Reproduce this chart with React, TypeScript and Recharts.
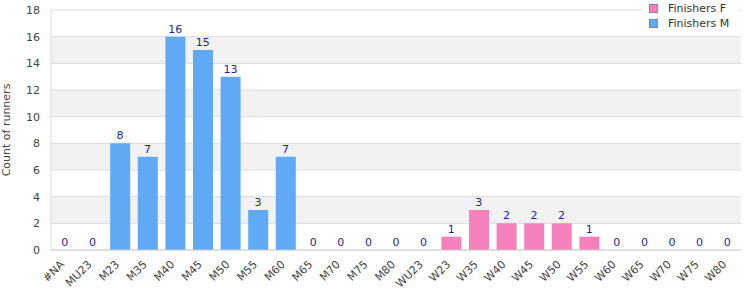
import React from 'react';
import { ComposedChart, Bar, Line, XAxis, YAxis, CartesianGrid, LabelList } from 'recharts';

const categories = ['#NA','MU23','M23','M35','M40','M45','M50','M55','M60','M65','M70','M75','M80','WU23','W23','W35','W40','W45','W50','W55','W60','W65','W70','W75','W80'];
const finishersM = [0,0,8,7,16,15,13,3,7,0,0,0,0,0,0,0,0,0,0,0,0,0,0,0,0];
const finishersF = [0,0,0,0,0,0,0,0,0,0,0,0,0,0,1,3,2,2,2,1,0,0,0,0,0];
const yTicks = [0,2,4,6,8,10,12,14,16,18];

const data = categories.map((c, i) => ({
  cat: c,
  m: finishersM[i],
  f: finishersF[i],
  total: finishersM[i] + finishersF[i],
}));

const FONT = '"DejaVu Sans", Verdana, sans-serif';
const BLUE = '#60a9f4';
const PINK = '#f481bb';

const XTick = (props: any) => {
  const { x, y, payload } = props;
  return (
    <text x={x} y={y + 7} transform={`rotate(-45 ${x} ${y + 7})`} textAnchor="end" fontSize={11} fill="#444" fontFamily={FONT}>
      {payload.value}
    </text>
  );
};

const YLabel = (props: any) => {
  const vb = props.viewBox || {};
  const cy = (vb.y ?? 10) + (vb.height ?? 240) / 2;
  return (
    <text x={6} y={cy} transform={`rotate(-90 6 ${cy})`} textAnchor="middle" dominantBaseline="central" fontSize={11} fill="#444" fontFamily={FONT}>
      Count of runners
    </text>
  );
};

export default function App() {
  return (
    <div style={{ position: 'absolute', left: 0, top: 0, width: 750, height: 300, background: '#fff', fontFamily: FONT }}>
      <ComposedChart width={750} height={300} data={data} margin={{ top: 10, right: 9, bottom: 0, left: 0 }}>
        <CartesianGrid vertical={false} stroke="#dcdcdc" horizontalFill={['#ffffff', '#f2f2f2']} fillOpacity={1} />
        <XAxis dataKey="cat" height={50} interval={0} tick={<XTick />} tickLine={false} axisLine={{ stroke: '#cfcfcf' }} />
        <YAxis width={51} domain={[0, 18]} ticks={yTicks} interval={0} tickLine={false} tickSize={6} tickMargin={5}
          axisLine={{ stroke: '#dcdcdc' }} tick={{ fontSize: 11, fill: '#444', fontFamily: FONT }} label={<YLabel />} />
        <YAxis yAxisId="r" orientation="right" width={0} domain={[0, 18]} tick={false} tickLine={false} axisLine={{ stroke: '#dcdcdc' }} />
        <Bar dataKey="m" stackId="a" fill={BLUE} barSize={20} isAnimationActive={false} />
        <Bar dataKey="f" stackId="a" fill={PINK} barSize={20} isAnimationActive={false} />
        <Line dataKey="total" stroke="none" dot={false} activeDot={false} isAnimationActive={false} legendType="none">
          <LabelList dataKey="total" position="top" offset={4} fontSize={11} fill="#1f1f99" fontFamily={FONT} />
        </Line>
      </ComposedChart>
      <div style={{ position: 'absolute', left: 643, top: 0, width: 95, height: 34, background: '#fff', fontSize: 11, color: '#333', lineHeight: '15px' }}>
        {[{ name: 'Finishers F', color: PINK }, { name: 'Finishers M', color: BLUE }].map((e, i) => (
          <div key={e.name} style={{ position: 'absolute', left: 6, top: 1 + i * 15, display: 'flex', alignItems: 'center', whiteSpace: 'nowrap' }}>
            <span style={{ display: 'inline-block', width: 7, height: 7, background: e.color, border: '1px solid #888', marginRight: 10 }} />
            <span>{e.name}</span>
          </div>
        ))}
      </div>
    </div>
  );
}
